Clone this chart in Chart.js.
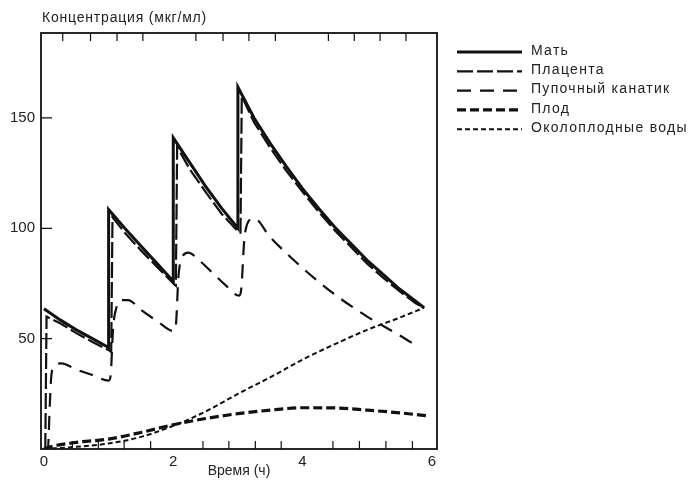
<!DOCTYPE html>
<html>
<head>
<meta charset="utf-8">
<script src="https://cdn.jsdelivr.net/npm/chart.js@4"></script>
<style>
  html, body { margin: 0; padding: 0; background: #fff; }
  canvas { display: block; }
</style>
</head>
<body>
<canvas id="conc_chart" width="692" height="481"></canvas>
<script>
// series names (legend order)
const seriesNames = ["Мать", "Плацента", "Пупочный канатик", "Плод", "Околоплодные воды"];

// time (h) / concentration (mcg/ml)
const motherTime = [0, 0.25, 0.5, 0.75, 1.0, 1.0, 1.25, 1.5, 1.75, 2.0, 2.0, 2.25, 2.5, 2.75, 3.0,
    3.0, 3.25, 3.5, 3.75, 4.0, 4.25, 4.5, 4.75, 5.0, 5.25, 5.5, 5.75, 5.88];
const motherConc = [63.5, 58.5, 54, 50, 46, 108.5, 100, 92, 84, 76, 141, 130, 119, 109, 100,
    164, 150, 138.5, 128, 118, 109, 100.5, 93, 85.5, 79, 72.5, 67, 64];

const placentaTime = [0.02, 0.04, 0.25, 0.5, 0.75, 1.02, 1.04, 1.06, 1.25, 1.5, 1.75, 2.02, 2.04, 2.06,
    2.25, 2.5, 2.75, 3.02, 3.04, 3.06, 3.25, 3.5, 3.75, 4.0, 4.25, 4.5, 4.75, 5.0, 5.25, 5.5, 5.75, 5.88];
const placentaConc = [0, 60, 57, 52.5, 48.5, 44.5, 44, 105, 98, 90, 82.5, 74.5, 74, 137,
    127, 116.5, 106.5, 98, 98, 160, 148, 136.5, 126, 116.5, 107.5, 99, 91.5, 84, 77.5, 71.5, 66, 64];

const cordTime = [0, 0.06, 0.09, 0.11, 0.15, 0.27, 0.5, 0.75, 1.0, 1.03, 1.07, 1.12, 1.2, 1.3, 1.5, 1.75, 2.0,
    2.04, 2.08, 2.14, 2.23, 2.4, 2.6, 2.8, 3.02, 3.05, 3.1, 3.16, 3.25, 3.5, 4.0, 4.5, 5.0, 5.5, 5.78];
const cordConc = [0, 0, 20, 32, 37, 38.8, 36, 33.5, 31, 33, 55, 64, 67.5, 67.5, 63, 58, 53.5,
    56, 78, 87, 89, 85.5, 80, 74.5, 69.5, 72, 95, 103, 104.5, 96, 82, 70, 60, 51.5, 46.5];

const fetusTime = [0, 0.1, 0.5, 1.0, 1.5, 2.0, 2.5, 3.0, 3.5, 4.0, 4.5, 5.0, 5.5, 5.94];
const fetusConc = [0, 1, 3, 4.5, 7.5, 11, 13.8, 16, 17.6, 18.7, 18.6, 17.6, 16.4, 15];

const amnioticTime = [0, 0.5, 1.0, 1.5, 2.0, 2.5, 3.0, 3.5, 4.0, 4.5, 5.0, 5.5, 5.88];
const amnioticConc = [0, 1, 2.5, 5.5, 10.5, 17, 25, 32.5, 40.5, 47.5, 54, 59.5, 64];

// axis ticks
const xTickLabels = [0, 2, 4, 6];
const yTickLabels = [50, 100, 150];
const xBottomMinor = [0.44, 0.84, 1.24, 1.65, 2.46, 2.86, 3.27, 3.67, 4.47, 4.88, 5.29, 5.7];
const xTopMinor = [0.29, 0.72, 1.13, 1.53, 2.35, 2.77, 3.17, 3.58, 4.4, 4.8, 5.2, 5.6];

const toPoints = (t, v) => t.map((x, i) => ({ x: x, y: v[i] }));

const ink = "#111";
const styles = [
    { width: 3, dash: [], mode: "default" },
    { width: 2.2, dash: [16, 4], mode: "default" },
    { width: 2.2, dash: [14, 9], mode: "monotone" },
    { width: 3.2, dash: [9, 4], mode: "monotone" },
    { width: 2, dash: [5, 3], mode: "monotone" },
];
const seriesData = [
    toPoints(motherTime, motherConc),
    toPoints(placentaTime, placentaConc),
    toPoints(cordTime, cordConc),
    toPoints(fetusTime, fetusConc),
    toPoints(amnioticTime, amnioticConc),
];

const decorations = {
    id: "decorations",
    afterDraw(chart) {
        const ctx = chart.ctx;
        const a = chart.chartArea;
        const xs = chart.scales.x, ys = chart.scales.y;
        ctx.save();
        ctx.strokeStyle = ink;
        ctx.lineWidth = 1.8;
        ctx.setLineDash([]);
        ctx.strokeRect(a.left, a.top, a.right - a.left, a.bottom - a.top);
        ctx.lineWidth = 1.2;
        ctx.beginPath();
        xBottomMinor.forEach((t) => {
            const px = xs.getPixelForValue(t);
            ctx.moveTo(px, a.bottom);
            ctx.lineTo(px, a.bottom - 8);
        });
        xTopMinor.forEach((t) => {
            const px = xs.getPixelForValue(t);
            ctx.moveTo(px, a.top);
            ctx.lineTo(px, a.top + 8);
        });
        yTickLabels.forEach((v) => {
            const py = ys.getPixelForValue(v);
            ctx.moveTo(a.left, py);
            ctx.lineTo(a.left + 11, py);
        });
        ctx.stroke();

        // y title, horizontal above the frame
        ctx.fillStyle = "#222";
        ctx.font = "14px 'Liberation Sans', Arial, sans-serif";
        ctx.textBaseline = "middle";
        ctx.textAlign = "left";
        if ("letterSpacing" in ctx) ctx.letterSpacing = "0.8px";
        ctx.fillText("Концентрация (мкг/мл)", 42, 18);

        // legend
        ctx.font = "14px 'Liberation Sans', Arial, sans-serif";
        if ("letterSpacing" in ctx) ctx.letterSpacing = "1.3px";
        seriesNames.forEach((name, i) => {
            const y = 52 + i * 19.3;
            ctx.lineWidth = styles[i].width;
            ctx.setLineDash(styles[i].dash);
            ctx.beginPath();
            ctx.moveTo(457, y);
            ctx.lineTo(522, y);
            ctx.stroke();
            ctx.fillText(name, 531, y - 1);
        });
        ctx.restore();
    },
};

new Chart(document.getElementById("conc_chart"), {
    type: "line",
    data: {
        datasets: seriesData.map((pts, i) => ({
            label: seriesNames[i],
            data: pts,
            borderColor: ink,
            borderWidth: styles[i].width,
            borderDash: styles[i].dash,
            cubicInterpolationMode: styles[i].mode,
            tension: 0,
            pointRadius: 0,
            fill: false,
        })),
    },
    options: {
        responsive: false,
        animation: false,
        layout: { padding: { left: 0, right: 255, top: 33, bottom: 0 } },
        plugins: { legend: { display: false }, tooltip: { enabled: false } },
        scales: {
            x: {
                type: "linear",
                min: -0.046,
                max: 6.08,
                grid: { display: false, drawTicks: false },
                border: { display: false },
                afterBuildTicks: (scale) => {
                    scale.ticks = xTickLabels.map((v) => ({ value: v }));
                },
                afterFit: (scale) => { scale.height = 32; },
                ticks: {
                    color: "#222",
                    padding: 4,
                    maxRotation: 0,
                    font: { family: "'Liberation Sans', Arial, sans-serif", size: 15 },
                },
                title: {
                    display: true,
                    text: "Время (ч)",
                    color: "#222",
                    padding: { top: 0, bottom: 1 },
                    font: { family: "'Liberation Sans', Arial, sans-serif", size: 14 },
                },
            },
            y: {
                min: 0,
                max: 188.5,
                grid: { display: false, drawTicks: false },
                border: { display: false },
                afterBuildTicks: (scale) => {
                    scale.ticks = yTickLabels.map((v) => ({ value: v }));
                },
                afterFit: (scale) => { scale.width = 41; },
                ticks: {
                    color: "#222",
                    padding: 6,
                    font: { family: "'Liberation Sans', Arial, sans-serif", size: 15 },
                },
            },
        },
    },
    plugins: [decorations],
});
</script>
</body>
</html>
